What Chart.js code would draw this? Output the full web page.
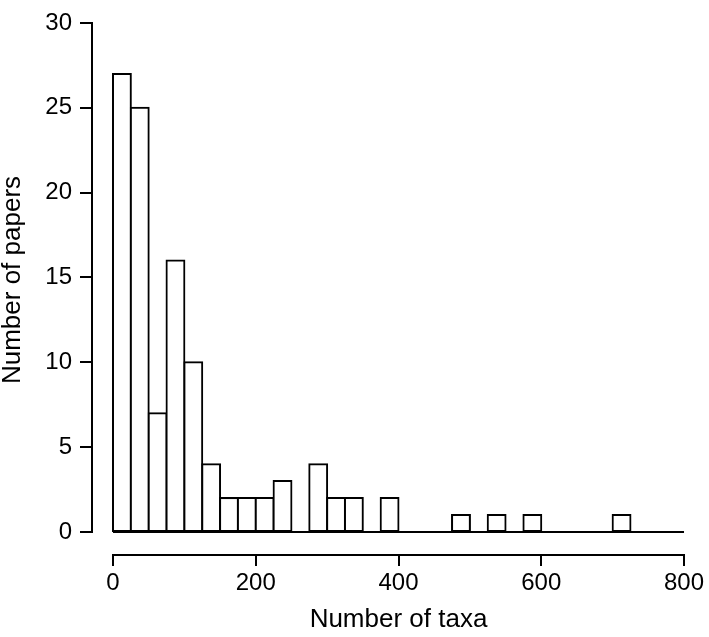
<!DOCTYPE html>
<html>
<head>
<meta charset="utf-8">
<script src="https://cdn.jsdelivr.net/npm/chart.js@4/dist/chart.umd.min.js"></script>
<style>
  html, body { margin: 0; padding: 0; background: #ffffff; }
  #wrap { width: 709px; height: 637px; }
</style>
</head>
<body>
<div id="wrap"><canvas id="c" width="709" height="637"></canvas></div>
<script>
// ---- data ----
const binStart = [0, 25, 50, 75, 100, 125, 150, 175, 200, 225, 250, 275, 300, 325, 350, 375,
                  400, 425, 450, 475, 500, 525, 550, 575, 600, 625, 650, 675, 700, 725, 750, 775];
const binWidth = 25;
const counts = [27, 25, 7, 16, 10, 4, 2, 2, 2, 3, 0, 4, 2, 2, 0, 2,
                0, 0, 0, 1, 0, 1, 0, 1, 0, 0, 0, 0, 1, 0, 0, 0];
const xTicks = [0, 200, 400, 600, 800];
const yTicks = [0, 5, 10, 15, 20, 25, 30];
const xTitle = 'Number of taxa';
const yTitle = 'Number of papers';

const FONT = '"Liberation Sans", Arial, Helvetica, sans-serif';

const barData = binStart.map((s, i) => ({ x: s + binWidth / 2, y: counts[i] }));
const baseData = [{ x: xTicks[0], y: 0 }, { x: xTicks[xTicks.length - 1], y: 0 }];

const axisLines = {
  id: 'axisLines',
  afterDraw(chart) {
    const { ctx, chartArea, scales } = chart;
    const xs = scales.x, ys = scales.y;
    ctx.save();
    ctx.strokeStyle = '#000';
    ctx.lineWidth = 2;
    ctx.lineCap = 'butt';
    ctx.beginPath();
    ctx.moveTo(xs.getPixelForValue(xTicks[0]) - 1, chartArea.bottom);
    ctx.lineTo(xs.getPixelForValue(xTicks[xTicks.length - 1]) + 1, chartArea.bottom);
    ctx.moveTo(chartArea.left, ys.getPixelForValue(yTicks[0]) + 1);
    ctx.lineTo(chartArea.left, ys.getPixelForValue(yTicks[yTicks.length - 1]) - 1);
    ctx.stroke();
    ctx.restore();
  }
};

new Chart(document.getElementById('c'), {
  type: 'bar',
  data: {
    datasets: [
      {
        type: 'bar',
        data: barData,
        backgroundColor: '#ffffff',
        borderColor: '#000000',
        borderWidth: 2,
        borderSkipped: false,
        inflateAmount: 1,
        barPercentage: 1,
        categoryPercentage: 1,
        order: 2
      },
      {
        type: 'line',
        data: baseData,
        borderColor: '#000000',
        borderWidth: 2,
        pointRadius: 0,
        fill: false,
        order: 1
      }
    ]
  },
  plugins: [axisLines],
  options: {
    responsive: false,
    animation: false,
    events: [],
    layout: { padding: { top: 5, right: 4, bottom: 0, left: 0 } },
    plugins: { legend: { display: false }, tooltip: { enabled: false } },
    scales: {
      x: {
        type: 'linear',
        offset: false,
        min: -29.42,
        max: 829.4,
        afterBuildTicks(scale) {
          scale.ticks = xTicks.map(v => ({ value: v }));
        },
        afterFit(scale) {
          scale.height = 82;
          scale.paddingLeft = 0;
          scale.paddingRight = 0;
        },
        grid: {
          offset: false,
          drawOnChartArea: false,
          drawTicks: true,
          tickLength: 11,
          color: '#000',
          lineWidth: 2
        },
        border: { display: false },
        ticks: {
          color: '#000',
          padding: 3,
          maxRotation: 0,
          autoSkip: false,
          font: { family: FONT, size: 24 }
        },
        title: {
          display: true,
          text: xTitle,
          color: '#000',
          font: { family: FONT, size: 26, lineHeight: 1 },
          padding: { top: 0, bottom: 4 }
        }
      },
      y: {
        type: 'linear',
        min: -1.356,
        max: 31.06,
        afterBuildTicks(scale) {
          scale.ticks = yTicks.map(v => ({ value: v }));
        },
        afterFit(scale) {
          scale.width = 92;
          scale.paddingTop = 0;
          scale.paddingBottom = 0;
        },
        grid: {
          drawOnChartArea: false,
          drawTicks: true,
          tickLength: 12,
          color: '#000',
          lineWidth: 2
        },
        border: { display: false },
        ticks: {
          color: '#000',
          padding: 8,
          autoSkip: false,
          font: { family: FONT, size: 24 }
        },
        title: {
          display: true,
          text: yTitle,
          color: '#000',
          font: { family: FONT, size: 26, lineHeight: 1 },
          padding: { top: 0, bottom: 0 }
        }
      }
    }
  }
});
</script>
</body>
</html>
